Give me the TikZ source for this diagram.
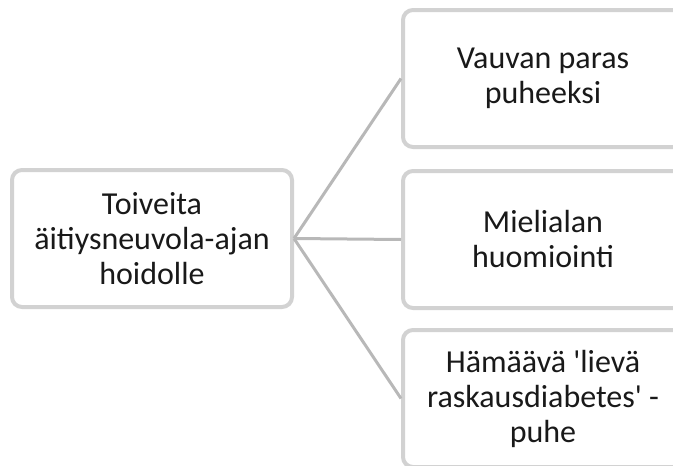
\documentclass[tikz,border=0pt]{standalone}
\usepackage{fontspec}
\setmainfont{Carlito}
\definecolor{boxgray}{HTML}{D2D2D2}
\definecolor{linkgray}{HTML}{B8B8B8}
\begin{document}
\begin{tikzpicture}[x=1pt,y=-1pt,
  box/.style={draw=boxgray, line width=4pt, rounded corners=10pt, fill=white,
    minimum width=280pt, minimum height=137pt, inner sep=0pt, align=center,
    font=\fontsize{32}{35}\selectfont, text=black!90},
  link/.style={draw=linkgray, line width=3pt}]
\useasboundingbox (0,0) rectangle (673,466);
\clip (0,0) rectangle (673,466);
\node[box] (L) at (152,238.5) {Toiveita\\äitiysneuvola-ajan\\hoidolle};
\node[box] (T) at (543,78.5) {Vauvan paras\\puheeksi};
\node[box] (M) at (543,239.5) {Mielialan\\huomiointi};
\node[box] (B) at (543,398.5) {Hämäävä \textquotesingle lievä\\raskausdiabetes\textquotesingle{} -\\puhe};
\draw[link] (L.east) -- (T.west);
\draw[link] (L.east) -- (M.west);
\draw[link] (L.east) -- (B.west);
\end{tikzpicture}
\end{document}
